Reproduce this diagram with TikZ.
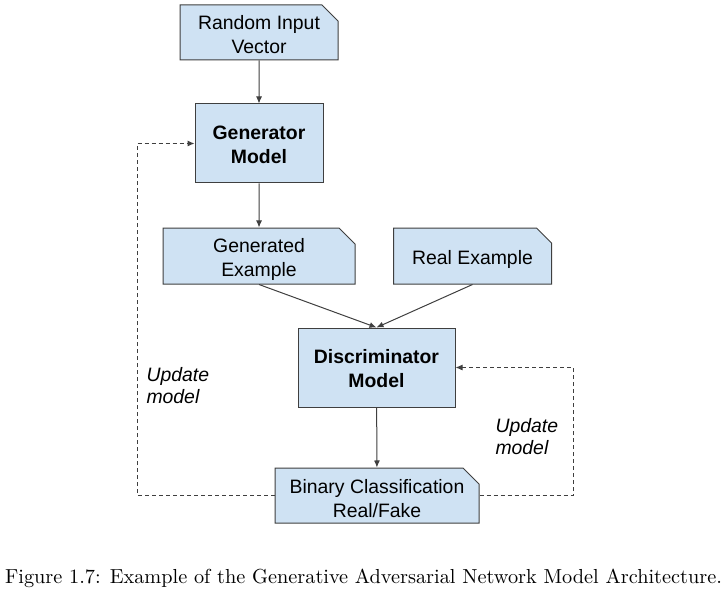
\documentclass[tikz,border=0pt]{standalone}
\usepackage{fontspec}
\usetikzlibrary{shapes.misc,arrows.meta}
\newfontfamily\boxfont{Liberation Sans}
\definecolor{boxblue}{HTML}{CFE2F3}
\definecolor{boxline}{HTML}{3F3F3F}
\newcommand\tup[1]{\rule{0pt}{#1}}

\begin{document}
\begin{tikzpicture}[x=0.5pt,y=-0.5pt,line width=0.5pt,
        >={Latex[length=3.5pt,width=3pt]}]
            \tikzstyle{b}=[rectangle,draw=boxline,fill=boxblue,inner sep=0pt,align=center,
                font=\boxfont\fontsize{9.7}{12}\selectfont]
            \tikzstyle{f}=[b,chamfered rectangle,chamfered rectangle corners=north east,
                chamfered rectangle xsep=4pt,chamfered rectangle ysep=4pt,inner ysep=-3pt]
            \tikzstyle{u}=[dashed,dash pattern=on 2pt off 1.5pt]
            \tikzstyle{l}=[anchor=west,align=left,inner sep=0pt,
                font=\boxfont\itshape\fontsize{9.7}{11}\selectfont]

            \useasboundingbox (0,0) rectangle (727,593);

            \node [f,minimum width=79pt,minimum height=27.5pt] (rand) at (259,32.5) {\tup{9pt}Random Input\\Vector};
            \node [b,minimum width=64pt,minimum height=39.5pt] (gen) at (259,143.5) {\tup{8.5pt}\bfseries Generator\\\bfseries Model};
            \node [f,minimum width=96pt,minimum height=28pt] (gened) at (259,256) {\tup{11pt}Generated\\Example};
            \node [f,minimum width=79pt,minimum height=28pt] (real) at (472.5,256) {\tup{11pt}Real Example};
            \node [b,minimum width=78.5pt,minimum height=39.5pt] (disc) at (376.5,367.5) {\tup{8pt}\bfseries Discriminator\\\bfseries Model};
            \node [f,minimum width=102pt,minimum height=27.5pt] (bin) at (377,495.5) {\tup{10.5pt}Binary Classification\\Real/Fake};

            \draw [->,boxline] (rand) -- (gen);
            \draw [->,boxline] (gen) -- (gened);
            \draw [->,boxline] (gened.south) -- (disc.north);
            \draw [->,boxline] (real.south) -- (disc.north);
            \draw [->,boxline] (disc) -- (bin);

            \coordinate (lft) at (137,495.5);
            \coordinate (rgt) at (573,495.5);
            \draw [->,u,boxline] (bin.west) -- (lft) |- (gen.west);
            \draw [->,u,boxline] (bin.east) -- (rgt) |- (disc.east);

            \node [l] (updl) at (146,386) {Update\\model};
            \node [l] (updr) at (495,437) {Update\\model};

            \node [anchor=base,inner sep=0pt,font=\fontsize{10.15}{12}\selectfont] (cap) at (363.5,583)
                {Figure 1.7: Example of the Generative Adversarial Network Model Architecture.};
        \end{tikzpicture}
\end{document}
